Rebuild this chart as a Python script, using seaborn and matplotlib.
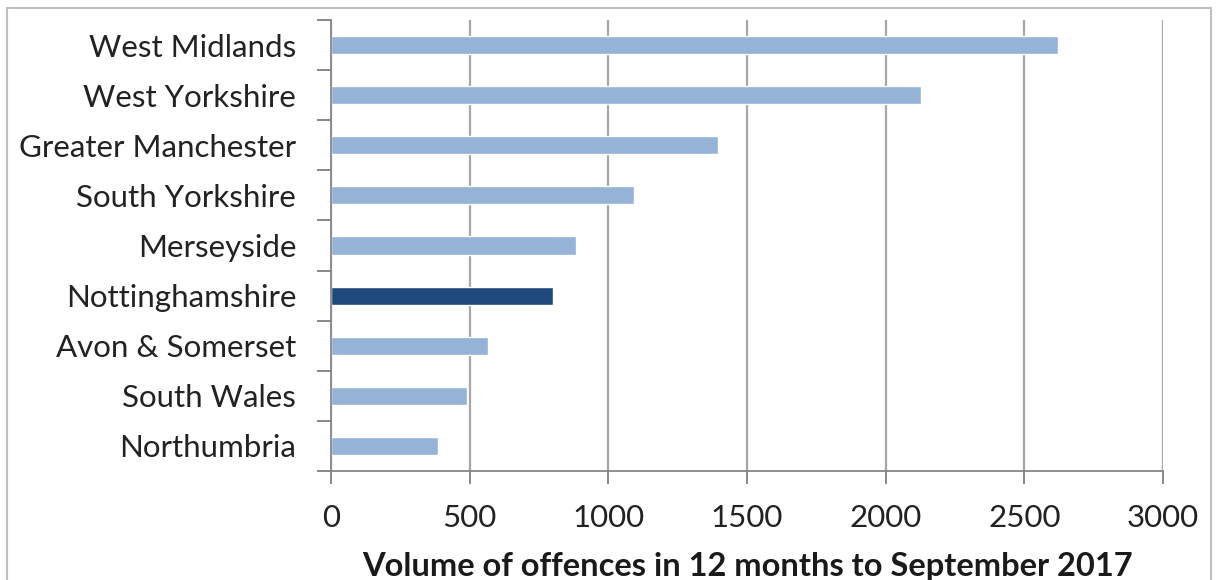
import matplotlib
matplotlib.use("Agg")
import matplotlib.pyplot as plt
import seaborn as sns
import pandas as pd
from matplotlib.patches import Rectangle

# datos
forces = ["West Midlands", "West Yorkshire", "Greater Manchester", "South Yorkshire",
          "Merseyside", "Nottinghamshire", "Avon & Somerset", "South Wales", "Northumbria"]
offences = [2620, 2128, 1397, 1093, 884, 799, 566, 492, 387]
highlight = "Nottinghamshire"

light = "#95B3D7"
dark = "#1F497D"

df = pd.DataFrame({"force": forces, "offences": offences})
colores = {f: (dark if f == highlight else light) for f in forces}

sns.set_theme(style="white")
plt.rcParams["font.family"] = ["Lato", "DejaVu Sans"]

fig = plt.figure(figsize=(12.17, 5.8), dpi=100)
ax = fig.add_axes([331 / 1217, 1 - 471 / 580, (1163 - 331) / 1217, (471 - 20) / 580])

sns.barplot(data=df, x="offences", y="force", hue="force", palette=colores,
            width=0.36, legend=False, ax=ax, saturation=1, orient="h")

ax.set_xlim(0, 3000)
ax.set_ylim(len(forces) - 0.5, -0.5)
ax.set_xticks(range(0, 3001, 500))
ax.tick_params(axis="x", labelsize=22.5, colors="#7F7F7F", length=9, width=1.3,
               direction="out", bottom=True, pad=15, labelcolor="#222222")
ax.tick_params(axis="y", which="major", length=0, labelsize=22.5, pad=25, labelcolor="#222222")
ax.set_yticks([i - 0.5 for i in range(len(forces) + 1)], minor=True)
ax.tick_params(axis="y", which="minor", length=10, width=1.3, colors="#7F7F7F", left=True)

ax.grid(axis="x", color="#A6A6A6", linewidth=1.6)
ax.set_axisbelow(True)
for s in ["top", "right"]:
    ax.spines[s].set_visible(False)
for s in ["left", "bottom"]:
    ax.spines[s].set_color("#868686")
    ax.spines[s].set_linewidth(1.3)

ax.set_ylabel("")
ax.set_xlabel("Volume of offences in 12 months to September 2017", fontsize=23.5,
              fontweight="bold", color="#1a1a1a", labelpad=14)

fig.patches.append(Rectangle((7 / 1217, -0.02), (1211 - 7) / 1217, 1 - 8 / 580 + 0.02,
                             transform=fig.transFigure, fill=False,
                             edgecolor="#BFBFBF", linewidth=1.5))

fig.savefig("out.png", dpi=100)
